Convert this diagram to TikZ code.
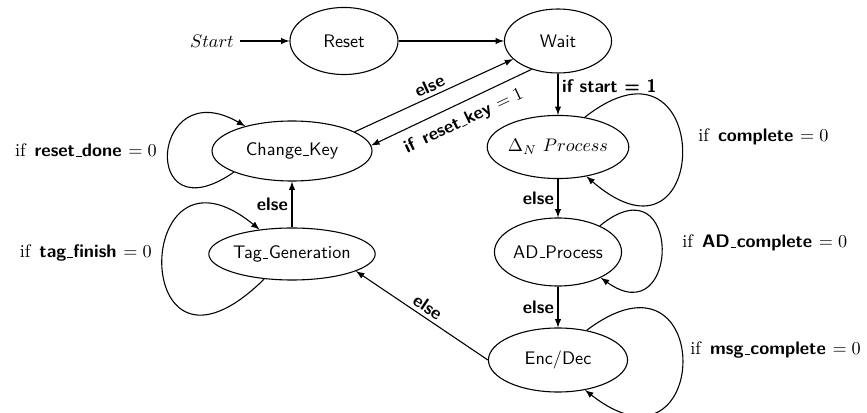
\documentclass[tikz,border=0pt]{standalone}
\usetikzlibrary{shapes.geometric}
% short baseline underscore, as in the classic OT1 \_
\newcommand{\usc}{\leavevmode\kern.06em\vbox{\hrule width.3em}\kern.02em}
\tikzset{
  state/.style={ellipse, draw, line width=0.6pt, font=\sffamily, inner sep=0pt},
  trans/.style={-latex, line width=0.6pt},
  cond/.style={font=\sffamily\bfseries, inner sep=2pt},
  loopcond/.style={font=\sffamily, inner sep=0pt},
}
\begin{document}
\begin{tikzpicture}[x=0.55pt, y=-0.55pt]
\useasboundingbox (0,0) rectangle (867,413);

% states
\node[state, minimum width=59.4pt, minimum height=36.9pt] (reset) at (344,41) {Reset};
\node[state, minimum width=58.9pt, minimum height=35.2pt] (wait) at (558,41) {Wait};
\node[state, minimum width=88pt, minimum height=33pt] (ck) at (292,151) {Change\usc Key};
\node[state, minimum width=88pt, minimum height=28.6pt] (tg) at (292,254) {Tag\usc Generation};
\node[state, minimum width=71pt, minimum height=34.7pt] (dn) at (558,147) {$\Delta_N\ Process$};
\node[state, minimum width=69.9pt, minimum height=37.4pt] (ad) at (558,252) {AD\usc Process};
\node[state, minimum width=76.5pt, minimum height=35.2pt] (ed) at (558,360) {Enc/Dec};
\node (start) at (212,41) {$Start$};

% transitions
\draw[trans] (start) -- (reset);
\draw[trans] (reset) -- (wait);
\draw[trans] (ck.17) -- node[cond, sloped, above] {else} (wait.202);
\draw[trans] (wait.227) -- node[cond, sloped, below=3pt, pos=0.47] {if\enspace reset\usc key \mdseries$=1$} (ck.4);
\draw[trans] (wait) -- node[cond, right, pos=0.3] {if start = 1} (dn);
\draw[trans] (dn) -- node[cond, left] {else} (ad);
\draw[trans] (ad) -- node[cond, left] {else} (ed);
\draw[trans] (ed.west) -- node[cond, sloped, above] {else} (tg.345);
\draw[trans] (tg) -- node[cond, left] {else} (ck);

% self loops
\draw[trans] (ck.200) .. controls +(-95,66) and +(-95,-55) .. (ck.152);
\draw[trans] (tg.222) .. controls +(-136,134) and +(-129,-106) .. (tg.143);
\draw[trans] (dn.48) .. controls +(130,-102) and +(127,110) .. (dn.314);
\draw[trans] (ad.32) .. controls +(83,-68) and +(80,58) .. (ad.329);
\draw[trans] (ed.46) .. controls +(130,-98) and +(127,100) .. (ed.312);

% loop conditions
\node[loopcond, anchor=east] (lrd) at (157,150) {\rmfamily if\enspace\sffamily\bfseries reset\usc done \mdseries$=0$};
\node[loopcond, anchor=east] (ltf) at (152,253) {\rmfamily if\enspace\sffamily\bfseries tag\usc finish \mdseries$=0$};
\node[loopcond, anchor=west] (lcp) at (698,137) {\rmfamily if\enspace\sffamily\bfseries complete \mdseries$=0$};
\node[loopcond, anchor=west] (lad) at (682,243) {\rmfamily if\enspace\sffamily\bfseries AD\usc complete \mdseries$=0$};
\node[loopcond, anchor=west] (lmc) at (690,350) {\rmfamily if\enspace\sffamily\bfseries msg\usc complete \mdseries$=0$};
\end{tikzpicture}
\end{document}
